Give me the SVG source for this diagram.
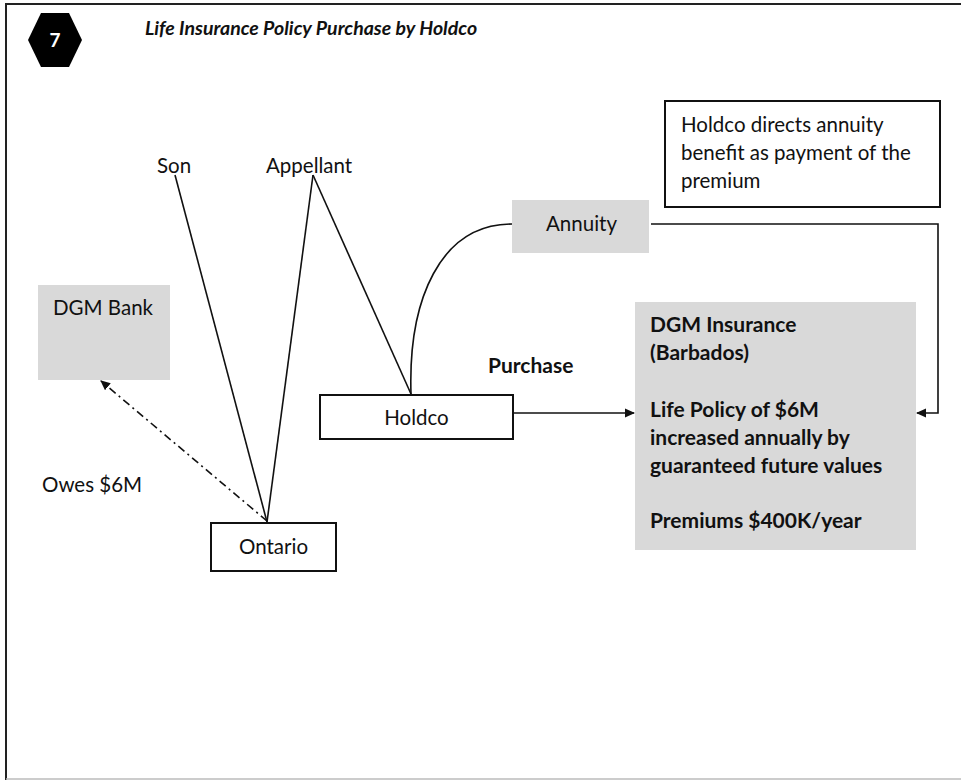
<svg xmlns="http://www.w3.org/2000/svg" width="961" height="782" viewBox="0 0 961 782">
<style>
  text { font-family: Lato, "Liberation Sans", sans-serif; fill: #111; }
  .lbl { font-size: 20.5px; }
  .bold { font-size: 21px; font-weight: bold; }
  .box { fill: #fff; stroke: #111; stroke-width: 2; }
  .gray { fill: #d9d9d9; stroke: none; }
  .ln { fill: none; stroke: #111; stroke-width: 1.6; }
</style>
<defs>
  <marker id="ah" markerWidth="10" markerHeight="10" refX="9" refY="5" orient="auto" markerUnits="userSpaceOnUse">
    <path d="M0,0.5 L10,5 L0,9.5 Z" fill="#111"/>
  </marker>
</defs>
<rect x="0" y="0" width="961" height="782" fill="#fff"/>
<g id="frame">
  <path d="M6,780 L6,4 L961,4" fill="none" stroke="#222" stroke-width="2"/>
  <path d="M6,779 L961,779" fill="none" stroke="#bbb" stroke-width="1.5"/>
</g>
<g id="badge">
  <polygon points="28,40 41,13 69,13 82,40 69,67 41,67" fill="#000"/>
  <text x="55" y="47" text-anchor="middle" style="font-size:19px;font-weight:bold;fill:#fff">7</text>
</g>
<g id="title">
  <text x="145" y="35" style="font-size:19.5px;font-weight:bold;font-style:italic">Life Insurance Policy Purchase by Holdco</text>
</g>
<g id="connectors">
  <line class="ln" x1="175" y1="175" x2="267" y2="522"/>
  <line class="ln" x1="313" y1="175" x2="267" y2="522"/>
  <line class="ln" x1="313" y1="175" x2="411" y2="394"/>
  <path class="ln" d="M411,394 C408,300 440,224 512,224"/>
  <path class="ln" d="M651,224 L938,224 L938,413 L917,413" marker-end="url(#ah)"/>
  <line class="ln" x1="514" y1="413" x2="634" y2="413" marker-end="url(#ah)"/>
  <line class="ln" x1="267" y1="521" x2="101" y2="381" stroke-dasharray="8,4,2,4" marker-end="url(#ah)"/>
</g>
<g id="son"><text class="lbl" x="157" y="173">Son</text></g>
<g id="appellant"><text class="lbl" x="266" y="173">Appellant</text></g>
<g id="dgm-bank">
  <rect class="gray" x="38" y="285" width="132" height="95"/>
  <text class="lbl" x="53" y="315">DGM Bank</text>
</g>
<g id="owes"><text class="lbl" x="42" y="492">Owes $6M</text></g>
<g id="ontario">
  <rect class="box" x="211" y="523" width="125" height="48"/>
  <text class="lbl" x="273.5" y="554" text-anchor="middle">Ontario</text>
</g>
<g id="holdco">
  <rect class="box" x="320" y="395" width="193" height="44"/>
  <text class="lbl" x="416.5" y="425" text-anchor="middle">Holdco</text>
</g>
<g id="purchase"><text class="bold" x="488" y="373">Purchase</text></g>
<g id="annuity">
  <rect class="gray" x="512" y="200" width="137" height="53"/>
  <text class="lbl" x="546" y="231">Annuity</text>
</g>
<g id="note">
  <rect class="box" x="665" y="101" width="275" height="106"/>
  <text class="lbl" x="681" y="132">Holdco directs annuity</text>
  <text class="lbl" x="681" y="160">benefit as payment of the</text>
  <text class="lbl" x="681" y="188">premium</text>
</g>
<g id="dgm-insurance">
  <rect class="gray" x="635" y="302" width="281" height="248"/>
  <text class="bold" x="650" y="332">DGM Insurance</text>
  <text class="bold" x="650" y="360">(Barbados)</text>
  <text class="bold" x="650" y="417">Life Policy of $6M</text>
  <text class="bold" x="650" y="445">increased annually by</text>
  <text class="bold" x="650" y="473">guaranteed future values</text>
  <text class="bold" x="650" y="528">Premiums $400K/year</text>
</g>
</svg>
